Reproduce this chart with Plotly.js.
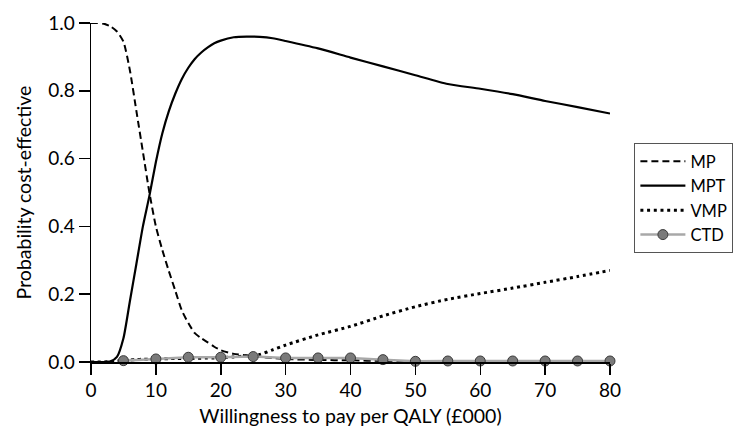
<!DOCTYPE html>
<html>
<head>
<meta charset="utf-8">
<script src="https://cdn.plot.ly/plotly-3.0.1.min.js"></script>
<style>
  html, body { margin: 0; padding: 0; background: #ffffff; }
  #chart { width: 734px; height: 428px; }
</style>
</head>
<body>
<div id="chart"></div>
<script>
// Willingness-to-pay grid (£000 per QALY)
const wtp = [0, 1, 2, 3, 4, 5, 6, 7, 8, 9, 10, 11, 12, 13, 14, 15, 16, 17, 18, 19, 20,
             22, 24, 26, 28, 30, 35, 40, 45, 50, 55, 60, 65, 70, 75, 80];

// Probability each strategy is cost-effective
const mp  = [1.0, 1.0, 0.998, 0.99, 0.975, 0.945, 0.86, 0.74, 0.62, 0.50, 0.40, 0.33, 0.268, 0.21, 0.152, 0.115, 0.085, 0.07, 0.058, 0.045, 0.035,
             0.024, 0.019, 0.015, 0.012, 0.009, 0.006, 0.005, 0.003, 0.002, 0.002, 0.002, 0.001, 0.001, 0.001, 0.001];
const mpt = [0, 0, 0, 0.002, 0.015, 0.07, 0.18, 0.29, 0.40, 0.49, 0.59, 0.675, 0.74, 0.792, 0.835, 0.868, 0.894, 0.913, 0.928, 0.94, 0.948,
             0.958, 0.96, 0.959, 0.955, 0.947, 0.925, 0.898, 0.872, 0.846, 0.82, 0.806, 0.79, 0.77, 0.752, 0.733];
const vmp = [0, 0, 0, 0.001, 0.003, 0.005, 0.006, 0.007, 0.008, 0.008, 0.009, 0.009, 0.01, 0.01, 0.01, 0.01, 0.011, 0.011, 0.012, 0.012, 0.013,
             0.015, 0.018, 0.022, 0.036, 0.05, 0.08, 0.105, 0.136, 0.163, 0.185, 0.202, 0.218, 0.235, 0.252, 0.27];

// CTD evaluated at £5000 steps
const wtpCtd = [5, 10, 15, 20, 25, 30, 35, 40, 45, 50, 55, 60, 65, 70, 75, 80];
const ctd    = [0.004, 0.009, 0.014, 0.014, 0.016, 0.012, 0.012, 0.012, 0.007, 0.002, 0.003, 0.003, 0.003, 0.003, 0.003, 0.003];

const xTicks = [0, 10, 20, 30, 40, 50, 60, 70, 80];
const yTicks = [0, 0.2, 0.4, 0.6, 0.8, 1.0];

const FONT = 'Lato, "Open Sans", sans-serif';

const traces = [
  {
    name: 'MP', x: wtp, y: mp, mode: 'lines', cliponaxis: false,
    line: { color: '#000000', width: 2, dash: '7px,4px', shape: 'spline', smoothing: 0.6 }
  },
  {
    name: 'MPT', x: wtp, y: mpt, mode: 'lines', cliponaxis: false,
    line: { color: '#000000', width: 2.2, shape: 'spline', smoothing: 0.6 }
  },
  {
    name: 'VMP', x: wtp, y: vmp, mode: 'lines', cliponaxis: false,
    line: { color: '#000000', width: 3, dash: '3px,3.7px', shape: 'spline', smoothing: 0.6 }
  },
  {
    name: 'CTD', x: wtpCtd, y: ctd, mode: 'lines+markers', cliponaxis: false,
    line: { color: '#a8a8a8', width: 2.5 },
    marker: { size: 10, color: '#7a7a7a', line: { color: '#3a3a3a', width: 1 } }
  }
];

const layout = {
  width: 734, height: 428,
  margin: { l: 91, r: 124, t: 23, b: 66, autoexpand: false },
  paper_bgcolor: '#ffffff', plot_bgcolor: '#ffffff',
  font: { family: FONT, size: 19, color: '#000000' },
  showlegend: true,
  legend: {
    x: 1.047, xanchor: 'left', y: 0.646, yanchor: 'top',
    bordercolor: '#555555', borderwidth: 1,
    font: { family: FONT, size: 16.5, color: '#000000' },
    itemwidth: 45, tracegroupgap: 0,
    bgcolor: '#ffffff'
  },
  xaxis: {
    range: [0, 80], tickvals: xTicks, ticktext: xTicks.map(String),
    showgrid: false, zeroline: false,
    showline: true, linecolor: '#000000', linewidth: 1.5,
    ticks: 'outside', ticklen: 11, tickwidth: 1.5, tickcolor: '#000000',
    tickfont: { family: FONT, size: 19 },
    title: { text: 'Willingness to pay per QALY (£000)', font: { family: FONT, size: 19.5 }, standoff: 9 },
    automargin: false
  },
  yaxis: {
    range: [0, 1], tickvals: yTicks, ticktext: yTicks.map(v => v.toFixed(1)),
    showgrid: false, zeroline: false,
    showline: true, linecolor: '#000000', linewidth: 1.5,
    ticks: 'outside', ticklen: 11, tickwidth: 1.5, tickcolor: '#000000',
    tickfont: { family: FONT, size: 19 },
    title: { text: 'Probability cost-effective', font: { family: FONT, size: 19.5 }, standoff: 11 },
    automargin: false
  }
};

Plotly.newPlot('chart', traces, layout, { displayModeBar: false, staticPlot: true });
</script>
</body>
</html>
